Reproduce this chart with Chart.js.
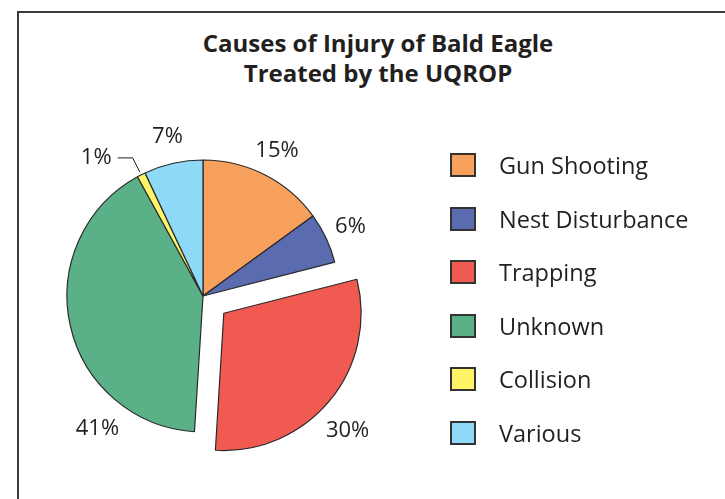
<!DOCTYPE html>
<html>
<head>
<meta charset="utf-8">
<script src="https://cdn.jsdelivr.net/npm/chart.js@4.4.1/dist/chart.umd.min.js"></script>
<style>
    html, body { margin: 0; padding: 0; background: #fff; }
    #wrap { position: relative; width: 725px; height: 499px; overflow: hidden; font-family: "Open Sans", sans-serif; color: #231f20; }
    #frame { position: absolute; left: 17px; top: 11px; width: 800px; height: 600px; border-left: 2px solid #3a3a3a; border-top: 2px solid #3a3a3a; }
    #title { position: absolute; left: 0; top: 28px; width: 756px; text-align: center; font-weight: 700; font-size: 24px; line-height: 30px; }
    #pie { position: absolute; left: 0; top: 0; }
    #legend { position: absolute; left: 450px; top: 153px; margin: 0; padding: 0; list-style: none; }
    #legend li { display: flex; align-items: center; height: 24px; margin-bottom: 29.5px; font-size: 23.5px; line-height: 24px; white-space: nowrap; }
    #legend .box { width: 26px; height: 24px; box-sizing: border-box; border: 2px solid #333; margin-right: 23px; }
</style>
</head>
<body>
<div id="wrap">
    <div id="frame"></div>
    <div id="title">Causes of Injury of Bald Eagle<br>Treated by the UQROP</div>
    <canvas id="pie" width="725" height="499"></canvas>
    <ul id="legend"></ul>
</div>
<script>
    // Chart data
    const causes = ['Gun Shooting', 'Nest Disturbance', 'Trapping', 'Unknown', 'Collision', 'Various'];
    const percents = [15, 6, 30, 41, 1, 7];
    const colors = ['#f7a15d', '#5b6bb0', '#f15a50', '#5ab188', '#fff367', '#8ed8f8'];
    const pulledOut = [0, 0, 108, 0, 0, 0]; // Trapping slice is pulled out

    // Legend on the right
    const legend = document.getElementById('legend');
    legend.innerHTML = causes.map((c, i) => `
        <li><span class="box" style="background:${colors[i]}"></span><span>${c}</span></li>
    `).join('');

    // Percent labels around the pie, with a leader line for tiny slices
    const pctLabels = {
        id: 'pctLabels',
        afterDatasetsDraw(chart, args, opts) {
            const ctx = chart.ctx;
            const arcs = chart.getDatasetMeta(0).data;
            ctx.save();
            ctx.font = '22px "Open Sans"';
            ctx.fillStyle = '#231f20';
            ctx.strokeStyle = '#231f20';
            ctx.lineWidth = 1;
            ctx.textBaseline = 'middle';
            arcs.forEach((arc, i) => {
                const p = arc.getProps(['x', 'y', 'startAngle', 'endAngle', 'outerRadius'], true);
                const shift = (arc.options.offset || 0) / 4;
                const tweak = opts.tweaks[i] || {};
                const mid = (p.startAngle + p.endAngle) / 2;
                const cx = p.x + Math.cos(mid) * shift;
                const cy = p.y + Math.sin(mid) * shift;
                const text = percents[i] + '%';
                if (percents[i] < 3) {
                    const r1 = p.outerRadius + 3, r2 = p.outerRadius + 19;
                    const ex = cx + Math.cos(mid) * r2, ey = cy + Math.sin(mid) * r2;
                    ctx.beginPath();
                    ctx.moveTo(cx + Math.cos(mid) * r1, cy + Math.sin(mid) * r1);
                    ctx.lineTo(ex, ey);
                    ctx.lineTo(ex - 15, ey);
                    ctx.stroke();
                    ctx.textAlign = 'right';
                    ctx.fillText(text, ex - 21, ey);
                } else {
                    const a = mid + (tweak.angle || 0) * Math.PI / 180;
                    const r = p.outerRadius + (tweak.gap || opts.gap);
                    ctx.textAlign = 'center';
                    ctx.fillText(text, cx + Math.cos(a) * r, cy + Math.sin(a) * r);
                }
            });
            ctx.restore();
        }
    };

    const chart = new Chart(document.getElementById('pie'), {
        type: 'pie',
        data: {
            labels: causes,
            datasets: [{
                data: percents,
                backgroundColor: colors,
                borderColor: '#2a2a2a',
                borderWidth: 1.2,
                offset: pulledOut,
                hoverOffset: 0,
                radius: 136
            }]
        },
        options: {
            responsive: false,
            animation: false,
            layout: { padding: { left: 0, right: 319, top: 93, bottom: 0 } },
            plugins: {
                legend: { display: false },
                tooltip: { enabled: false },
                pctLabels: { gap: 27, tweaks: { 2: { angle: 4, gap: 35 }, 3: { angle: -39, gap: 34 } } }
            }
        },
        plugins: [pctLabels]
    });
</script>
</body>
</html>
